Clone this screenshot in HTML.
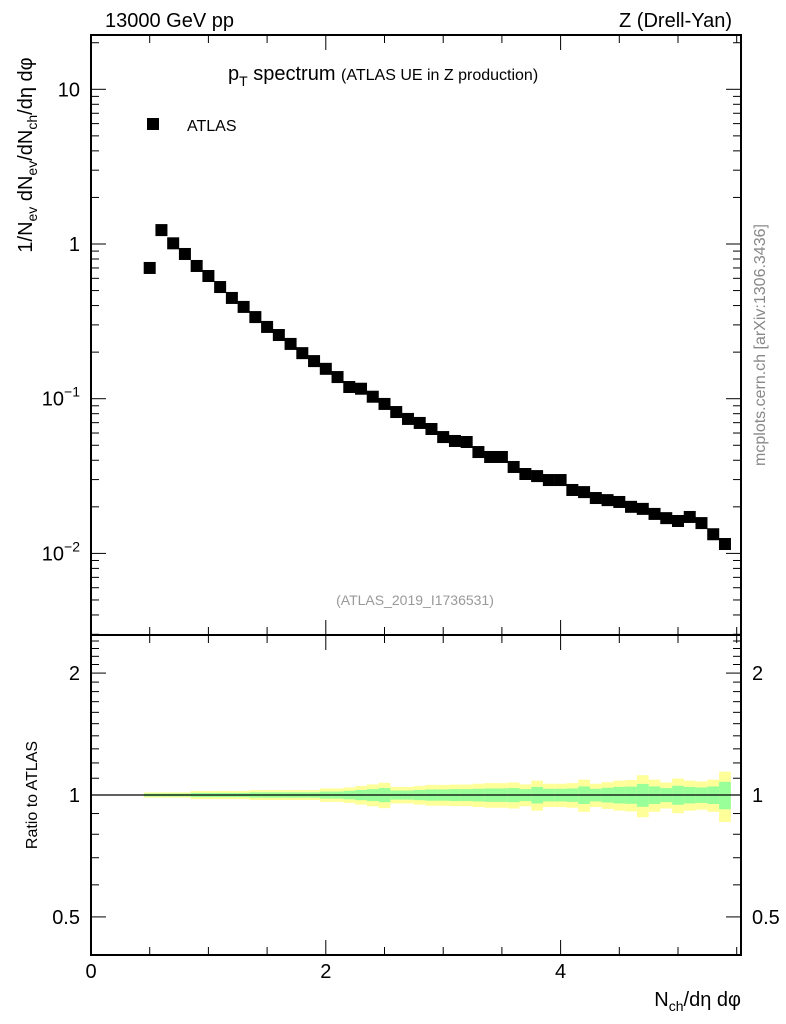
<!DOCTYPE html>
<html><head><meta charset="utf-8"><style>
body{margin:0;background:#fff;width:786px;height:1024px;overflow:hidden}
svg{display:block;font-family:"Liberation Sans",sans-serif}
</style></head><body>
<svg id="c" width="786" height="1024" viewBox="0 0 786 1024">
<text x="105" y="27" font-size="20">13000 GeV pp</text>
<text x="732" y="27" font-size="20" text-anchor="end">Z (Drell-Yan)</text>
<text x="228" y="80" font-size="20">p<tspan font-size="14" dy="6">T</tspan><tspan dy="-6"> spectrum </tspan><tspan font-size="16">(ATLAS UE in Z production)</tspan></text>
<rect x="147" y="118" width="12" height="12" fill="#000"/>
<text x="187" y="131" font-size="16">ATLAS</text>
<text x="415" y="605" font-size="14" fill="#999" text-anchor="middle">(ATLAS_2019_I1736531)</text>
<text transform="translate(765,345) rotate(-90)" font-size="16" fill="#888" text-anchor="middle">mcplots.cern.ch [arXiv:1306.3436]</text>
<text transform="translate(32,155) rotate(-90)" font-size="20" text-anchor="middle">1/N<tspan font-size="14" dy="5">ev</tspan><tspan dy="-5"> dN</tspan><tspan font-size="14" dy="5">ev</tspan><tspan dy="-5">/dN</tspan><tspan font-size="14" dy="5">ch</tspan><tspan dy="-5">/dη dφ</tspan></text>
<text transform="translate(37,795) rotate(-90)" font-size="16" text-anchor="middle">Ratio to ATLAS</text>
<text x="741" y="1006" font-size="20" text-anchor="end">N<tspan font-size="14" dy="5">ch</tspan><tspan dy="-5">/dη dφ</tspan></text>
<g id="bands"></g><g id="axes"></g><g id="pts"></g>
</svg>
<script>
const xVals=[0.5,0.6,0.7,0.8,0.9,1.0,1.1,1.2,1.3,1.4,1.5,1.6,1.7,1.8,1.9,2.0,2.1,2.2,2.3,2.4,2.5,2.6,2.7,2.8,2.9,3.0,3.1,3.2,3.3,3.4,3.5,3.6,3.7,3.8,3.9,4.0,4.1,4.2,4.3,4.4,4.5,4.6,4.7,4.8,4.9,5.0,5.1,5.2,5.3,5.4];
const yVals=[0.70,1.23,1.01,0.862,0.721,0.621,0.527,0.448,0.392,0.337,0.291,0.258,0.226,0.197,0.175,0.156,0.138,0.119,0.116,0.103,0.0925,0.082,0.074,0.0697,0.0637,0.0565,0.0533,0.0525,0.0452,0.042,0.042,0.0362,0.0326,0.0316,0.0298,0.0298,0.0257,0.0249,0.0228,0.0221,0.0215,0.0200,0.0194,0.0180,0.0169,0.0162,0.0172,0.0157,0.0133,0.0115];
const yellowErr=[0.015,0.015,0.015,0.015,0.023,0.023,0.023,0.023,0.023,0.028,0.028,0.028,0.028,0.028,0.028,0.038,0.038,0.044,0.053,0.062,0.072,0.047,0.047,0.053,0.059,0.059,0.061,0.061,0.066,0.070,0.070,0.074,0.062,0.085,0.066,0.066,0.070,0.091,0.066,0.076,0.085,0.089,0.119,0.091,0.074,0.098,0.085,0.080,0.091,0.142];
const greenErr=[0.008,0.008,0.008,0.008,0.012,0.012,0.012,0.012,0.012,0.015,0.015,0.015,0.015,0.015,0.015,0.02,0.02,0.024,0.029,0.034,0.04,0.026,0.026,0.029,0.032,0.032,0.034,0.034,0.036,0.038,0.038,0.04,0.034,0.047,0.036,0.036,0.038,0.05,0.036,0.042,0.047,0.049,0.065,0.05,0.04,0.054,0.047,0.044,0.05,0.078];
const mainTicks=[["10",1],["1",0],["10",-1],["10",-2]];
const ratioTicks=[["2",2],["1",1],["0.5",0.5]];
const xTicks=[0,2,4];
const NS="http://www.w3.org/2000/svg";
const L=91,R=741,T=35,MB=635,RB=955;
const X=v=>91+v*117.4;
const Y=v=>244-Math.log10(v)*154.7;
const RY=v=>795-Math.log10(v)*405;
function mk(tag,attrs,parent){const e=document.createElementNS(NS,tag);for(const k in attrs)e.setAttribute(k,attrs[k]);parent.appendChild(e);return e;}
const ax=document.getElementById('axes'),bd=document.getElementById('bands'),pt=document.getElementById('pts');
function band(err,color,name){
  for(let i=0;i<xVals.length;i++){
    const x0=i==0?X(xVals[0]-0.05):X((xVals[i-1]+xVals[i])/2);
    const x1=i==xVals.length-1?X(xVals[i]+0.05):X((xVals[i]+xVals[i+1])/2);
    const r=mk('rect',{x:x0,y:RY(1+err[i]),width:x1-x0,height:RY(1-err[i])-RY(1+err[i]),fill:color},bd);
    
    
  }
}
band(yellowErr,'#ffff99','yellow-band');
band(greenErr,'#99ff99','green-band');
const ln=mk('line',{x1:L,x2:R,y1:RY(1),y2:RY(1),stroke:'#000','stroke-width':1.3},ax);


for(const [y0,y1,n] of [[T,MB,'main-frame'],[MB,RB,'ratio-frame']]){
  const f=mk('rect',{x:L,y:y0,width:R-L,height:y1-y0,fill:'none',stroke:'#000','stroke-width':2},ax);
  
  
}
for(let d=-3;d<=1;d++){for(let m=1;m<=9;m++){const v=m*Math.pow(10,d);const y=Y(v);if(y<T||y>MB)continue;const len=m==1?15:8;
 mk('line',{x1:L,x2:L+len,y1:y,y2:y,stroke:'#000'},ax);mk('line',{x1:R,x2:R-len,y1:y,y2:y,stroke:'#000'},ax);}}
for(const [b,e] of mainTicks){const y=Y(Math.pow(10,e));
 const t=mk('text',{x:80,y:y+7,'font-size':20,'text-anchor':'end'},ax);
 
 
 if(e==0||e==1)t.textContent=b;else{t.textContent=b;const s=mk('tspan',{'font-size':14,dy:-9},t);s.textContent='−'+(-e);}}
for(let v=0.4;v<=2.5;v+=0.1){const vv=Math.round(v*10)/10;const y=RY(vv);if(y<MB||y>RB)continue;const len=(vv==1||vv==2||vv==0.5)?15:8;
 mk('line',{x1:L,x2:L+len,y1:y,y2:y,stroke:'#000'},ax);mk('line',{x1:R,x2:R-len,y1:y,y2:y,stroke:'#000'},ax);}
for(const [s,v] of ratioTicks){const y=RY(v);
 const t=mk('text',{x:80,y:y+7,'font-size':20,'text-anchor':'end'},ax);t.textContent=s;
 
 
 const t2=mk('text',{x:752,y:y+7,'font-size':20},ax);t2.textContent=s;
 
 }
for(let v=0;v<=5.5;v+=0.5){const x=X(v);const maj=xTicks.includes(v);const len=maj?15:8;
 for(const [a,b] of [[T,1],[MB,-1],[MB,1],[RB,-1]])mk('line',{x1:x,x2:x,y1:a,y2:a+b*len,stroke:'#000'},ax);}
for(const v of xTicks){const t=mk('text',{x:X(v),y:978,'font-size':20,'text-anchor':'middle'},ax);t.textContent=v;
 
 }
for(let i=0;i<xVals.length;i++){
 const r=mk('rect',{x:X(xVals[i])-6,y:Y(yVals[i])-6,width:12,height:12,fill:'#000'},pt);
 
 
}
</script>
</body></html>
